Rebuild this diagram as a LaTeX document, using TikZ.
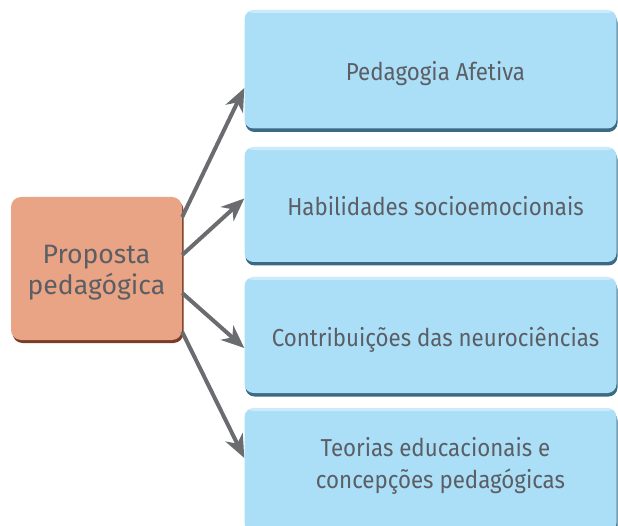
\documentclass[tikz,border=0pt]{standalone}
\usepackage{fontspec}
\setmainfont{Fira Sans}
\newfontfamily\topicfont[FakeStretch=0.91]{Fira Sans}
\usetikzlibrary{shadows,arrows.meta}
\definecolor{skyface}{HTML}{ABDFF8}
\definecolor{skyshade}{HTML}{3B6B82}
\definecolor{peachface}{HTML}{E9A385}
\definecolor{peachshade}{HTML}{7A3C27}
\definecolor{txtgray}{HTML}{5B5E63}
\definecolor{arrowgray}{HTML}{6B6C6F}
\tikzset{
  topic/.style={fill=skyface, rounded corners=9pt, minimum width=372pt,
    text=txtgray, align=center, font=\topicfont\fontsize{24.5}{31.5}\selectfont,
    text height=25pt, text depth=2pt,
    execute at begin node={\hspace*{10pt}},
    path picture={\fill[white, opacity=0.4] (path picture bounding box.north west)
      rectangle ([yshift=-3pt]path picture bounding box.north east);},
    drop shadow={shadow xshift=1pt, shadow yshift=-3.5pt, fill=skyshade, opacity=1}},
  root/.style={fill=peachface, rounded corners=10pt, minimum width=171pt,
    minimum height=143pt, text=txtgray, align=center,
    font=\fontsize{26.6}{32}\selectfont, text height=58pt, text depth=5pt,
    drop shadow={shadow xshift=1.5pt, shadow yshift=-3pt, fill=peachshade, opacity=1}},
  link/.style={-{Stealth[length=23pt, width=19pt, inset=7pt]}, line width=4pt,
    draw=arrowgray}
}
\begin{document}
\begin{tikzpicture}[x=1pt, y=-1pt]
\useasboundingbox (0,0) rectangle (618,526);
\node[topic, minimum height=118.5pt] (afetiva) at (430.5,69.25) {Pedagogia Afetiva};
\node[topic, minimum height=115pt] (habilidades) at (430.5,204.5) {Habilidades socioemocionais};
\node[topic, minimum height=116pt] (neuro) at (430.5,335) {Contribuições das neurociências};
\node[topic, minimum height=124pt, text height=41pt, text depth=5pt] (teorias) at (430.5,470)
  {Teorias educacionais e\\\hspace*{10pt}concepções pedagógicas};
\node[root] (proposta) at (96.5,268.5) {Proposta\\pedagógica};
% arrows
\draw[link] ([yshift=51.5pt]proposta.east) -- ([yshift=-18.75pt]afetiva.west);
\draw[link] ([yshift=13.5pt]proposta.east) -- ([yshift=6pt]habilidades.west);
\draw[link] ([yshift=-24.5pt]proposta.east) -- ([yshift=-13pt]neuro.west);
\draw[link] ([yshift=-63.5pt]proposta.east) -- ([yshift=12pt]teorias.west);
\end{tikzpicture}
\end{document}
